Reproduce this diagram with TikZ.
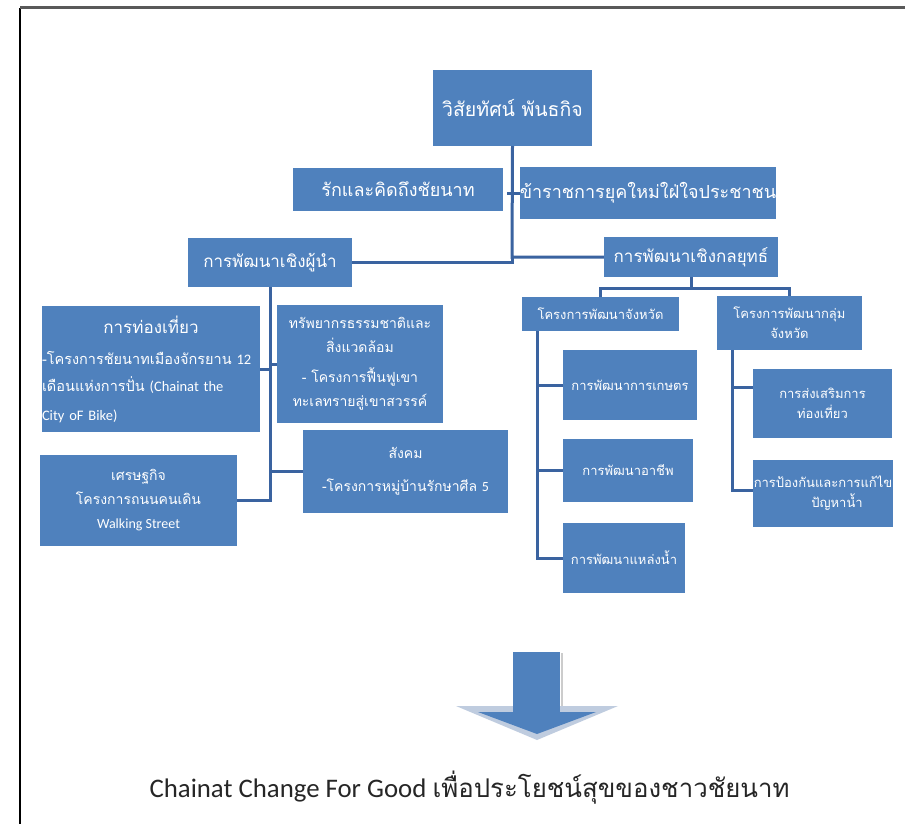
\documentclass[tikz,border=0pt]{standalone}
\usepackage{fontspec}
\setmainfont{Loma}[Script=Thai]
\newfontfamily\lat{Carlito}
\usetikzlibrary{calc}
\definecolor{boxblue}{HTML}{4F81BD}
\definecolor{linkblue}{HTML}{3A63A0}
\definecolor{headlight}{HTML}{BFCCDF}
\begin{document}
\begin{tikzpicture}[x=1pt,y=-1pt,
  box/.style={fill=boxblue, text=white, inner sep=0pt, align=center},
  link/.style={draw=linkblue, line width=3pt},
  fa/.style={font=\fontsize{19.5}{26}\selectfont},
  fb/.style={font=\fontsize{18}{24}\selectfont},
  fc/.style={font=\fontsize{17}{22}\selectfont},
  fd/.style={font=\fontsize{14}{24}\selectfont},
  fe/.style={font=\fontsize{13}{20}\selectfont}]
\useasboundingbox (0,0) rectangle (905,824);
\fill[white] (0,0) rectangle (905,824);
% page frame
\draw[line width=2pt, black] (20,8) -- (20,824);
\draw[line width=3pt, black!65] (20,8) -- (905,8);

% top level
\node[box, fa, minimum width=159, minimum height=76] (vision) at (512.5,108) {วิสัยทัศน์ พันธกิจ};
\node[box, fb, minimum width=210, minimum height=43] (love) at (398,189.5) {รักและคิดถึงชัยนาท};
\node[box, fb, minimum width=250, minimum height=52] (civil) at (648,193) {ข้าราชการยุคใหม่ใฝ่ใจประชาชน};
\node[box, fc, minimum width=164, minimum height=49] (leader) at (270,262.5) {การพัฒนาเชิงผู้นำ};
\node[box, fc, minimum width=174, minimum height=40] (strat) at (691,257) {การพัฒนาเชิงกลยุทธ์};

% leadership branch
\node[box, font=\fontsize{14.5}{27}\selectfont, minimum width=218, minimum height=126, text width=218pt, align=left] (tour) at (151,369)
  {\makebox[218pt]{\fontsize{17}{22}\selectfont การท่องเที่ยว}\\[4pt]
   -โครงการชัยนาทเมืองจักรยาน {\lat 12}\\
   เดือนแห่งการปั่น {\lat (Chainat the}\\[2pt]
   {\lat City oF Bike)}};
\node[box, fd, minimum width=166, minimum height=118] (nature) at (360,364)
  {ทรัพยากรธรรมชาติและ\\สิ่งแวดล้อม\\[6pt]- โครงการฟื้นฟูเขา\\ทะเลทรายสู่เขาสวรรค์};
\node[box, fd, minimum width=197, minimum height=91] (econ) at (138.5,500.5)
  {เศรษฐกิจ\\โครงการถนนคนเดิน\\{\lat Walking Street}};
\node[box, fd, minimum width=205, minimum height=83] (social) at (405.5,471.5)
  {สังคม\\[9pt]-โครงการหมู่บ้านรักษาศีล {\lat 5}};

% strategy branch
\node[box, fe, minimum width=157, minimum height=34] (prov) at (600.5,314) {โครงการพัฒนาจังหวัด};
\node[box, fe, minimum width=145, minimum height=54] (group) at (789.5,323) {โครงการพัฒนากลุ่ม\\จังหวัด};
\node[box, fe, minimum width=134, minimum height=70] (agri) at (630,385) {การพัฒนาการเกษตร};
\node[box, fe, minimum width=130, minimum height=63] (career) at (628,470.5) {การพัฒนาอาชีพ};
\node[box, fe, minimum width=122, minimum height=70] (water) at (624,558) {การพัฒนาแหล่งน้ำ};
\node[box, fe, minimum width=139, minimum height=69] (promo) at (822.5,403.5) {การส่งเสริมการ\\ท่องเที่ยว};
\node[box, fe, minimum width=140, minimum height=67, text width=140pt] (flood) at (823,493.5)
  {การป้องกันและการแก้ไข\\\hspace*{28pt}ปัญหาน้ำ};

% junctions
\coordinate (hub) at (512,257);
\coordinate (civstub) at (507,193);
\coordinate (fork) at (691,288);
\coordinate (lspine) at (270,287);
\coordinate (pspine) at (537,331);
\coordinate (gspine) at (732,350);
\coordinate (promotick) at (753,387);
\coordinate (floodtick) at (753,490);

% connectors
\draw[link] (vision.south) -- (hub) -- (strat.west);
\draw[link] (leader.east) -| (hub);
\draw[link] (civstub) -- (civil.west);
\draw[link] (strat.south) -- (fork);
\draw[link] (prov.north) |- (fork) -| (group.north);
\draw[link] (lspine) |- (econ.east);
\draw[link] (lspine) |- (tour.east);
\draw[link] (lspine) |- (nature.west);
\draw[link] (lspine) |- (social.west);
\draw[link] (pspine) |- (agri.west);
\draw[link] (pspine) |- (career.west);
\draw[link] (pspine) |- (water.west);
\draw[link] (gspine) |- (promotick);
\draw[link] (gspine) |- (floodtick);

% outcome arrow
\fill[headlight] (456,706) -- (618,706) -- (537,740) -- cycle;
\fill[boxblue] (513,652) rectangle (560,712);
\fill[boxblue] (478,712) -- (596,712) -- (537,734) -- cycle;
\draw[black!20, line width=1.5pt] (562,653) -- (562,706);

\node[text=black!85, inner sep=0pt] (slogan) at (469.5,788)
  {{\lat\fontsize{26.8}{30}\selectfont Chainat Change For Good\ }{\fontsize{25.8}{30}\selectfont เพื่อประโยชน์สุขของชาวชัยนาท}};
\end{tikzpicture}
\end{document}
